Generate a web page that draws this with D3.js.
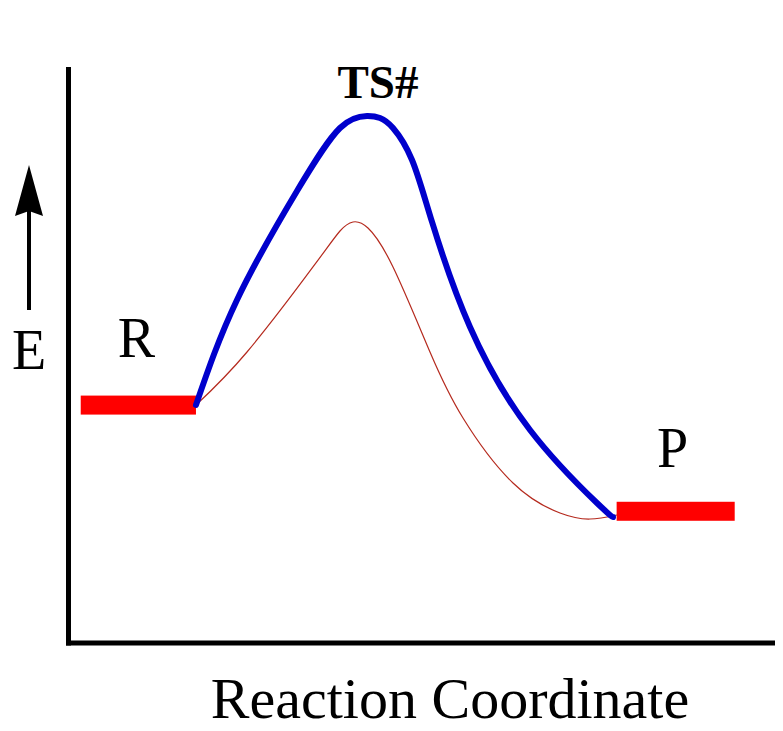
<!DOCTYPE html>
<html>
<head>
<meta charset="utf-8">
<script src="https://cdn.jsdelivr.net/npm/d3@7"></script>
<style>
  html, body { margin: 0; padding: 0; background: #fff; }
  svg { display: block; }
  text { font-family: "Liberation Serif", "Times New Roman", serif; fill: #000; }
</style>
</head>
<body>
<svg id="chart" width="783" height="731"></svg>
<script>
// Reaction coordinate (0-100) and energy (0-100)
const uncatX = [18.10, 23.90, 32.39, 38.47, 42.29, 44.13, 45.97, 48.66, 51.49, 56.86, 65.35, 74.82, 77.09];
const uncatE = [41.11, 59.41, 78.40, 89.37, 91.46, 91.11, 89.37, 83.80, 73.00, 54.70, 36.76, 24.04, 21.60];

const catX = [18.10, 25.32, 34.65, 38.47, 40.31, 42.43, 45.97, 51.20, 55.87, 62.94, 69.59, 73.83, 77.65];
const catE = [41.11, 50.35, 65.16, 71.43, 73.00, 71.95, 65.16, 50.35, 38.85, 27.53, 22.30, 21.25, 21.95];

const levelLabels = ["R", "P"];
const levelStart = [1.8, 77.6];
const levelEnd = [18.1, 94.3];
const levelE = [41.1, 22.6];

const peakLabel = "TS#";
const xTitle = "Reaction Coordinate";
const yTitle = "E";

const svg = d3.select("#chart");
const x = d3.scaleLinear().domain([0, 100]).range([68, 775]);
const y = d3.scaleLinear().domain([0, 100]).range([641, 67]);

// axes
svg.append("path")
  .attr("d", `M${x(0) + 0.5},${y(100)} V${y(0) + 4.5}`)
  .attr("stroke", "#000").attr("stroke-width", 5).attr("fill", "none");
svg.append("path")
  .attr("d", `M${x(0) - 2},${y(0) + 2} H${x(100)}`)
  .attr("stroke", "#000").attr("stroke-width", 5).attr("fill", "none");

// energy level bars
const levels = levelLabels.map((l, i) => ({ label: l, x0: levelStart[i], x1: levelEnd[i], e: levelE[i] }));
svg.selectAll("rect.level").data(levels).join("rect")
  .attr("class", "level")
  .attr("x", d => x(d.x0))
  .attr("width", d => x(d.x1) - x(d.x0))
  .attr("y", d => y(d.e) - 9.5)
  .attr("height", 19)
  .attr("fill", "#ff0000");

// curves
const line = d3.line().x(d => x(d[0])).y(d => y(d[1])).curve(d3.curveNatural);
svg.append("path")
  .attr("d", line(catX.map((v, i) => [v, catE[i]])))
  .attr("fill", "none").attr("stroke", "#b52a1e").attr("stroke-width", 1.2);
svg.append("path")
  .attr("d", line(uncatX.map((v, i) => [v, uncatE[i]])))
  .attr("fill", "none").attr("stroke", "#0000cc").attr("stroke-width", 6)
  .attr("stroke-linecap", "round");

// level labels
svg.selectAll("text.lvl").data(levels).join("text")
  .attr("class", "lvl")
  .attr("x", d => (x(d.x0) + x(d.x1)) / 2 + (d.label === "P" ? -3 : -2))
  .attr("y", d => y(d.e) - (d.label === "P" ? 44 : 48))
  .attr("text-anchor", "middle")
  .attr("font-size", 56)
  .text(d => d.label);

// transition state label
const peakIdx = uncatE.indexOf(d3.max(uncatE));
svg.append("text")
  .attr("x", x(uncatX[peakIdx]) + 11)
  .attr("y", y(uncatE[peakIdx]) - 18)
  .attr("text-anchor", "middle")
  .attr("font-size", 47)
  .attr("font-weight", "bold")
  .text(peakLabel);

// E arrow
svg.append("line")
  .attr("x1", 29).attr("x2", 29).attr("y1", 310).attr("y2", 210)
  .attr("stroke", "#000").attr("stroke-width", 4);
svg.append("path")
  .attr("d", "M29,165 L43,216 L29,211 L15,216 Z")
  .attr("fill", "#000");
svg.append("text")
  .attr("x", 29).attr("y", 369)
  .attr("text-anchor", "middle")
  .attr("font-size", 56)
  .text(yTitle);

// x title
svg.append("text")
  .attr("x", 450).attr("y", 718)
  .attr("text-anchor", "middle")
  .attr("font-size", 58)
  .text(xTitle);
</script>
</body>
</html>
